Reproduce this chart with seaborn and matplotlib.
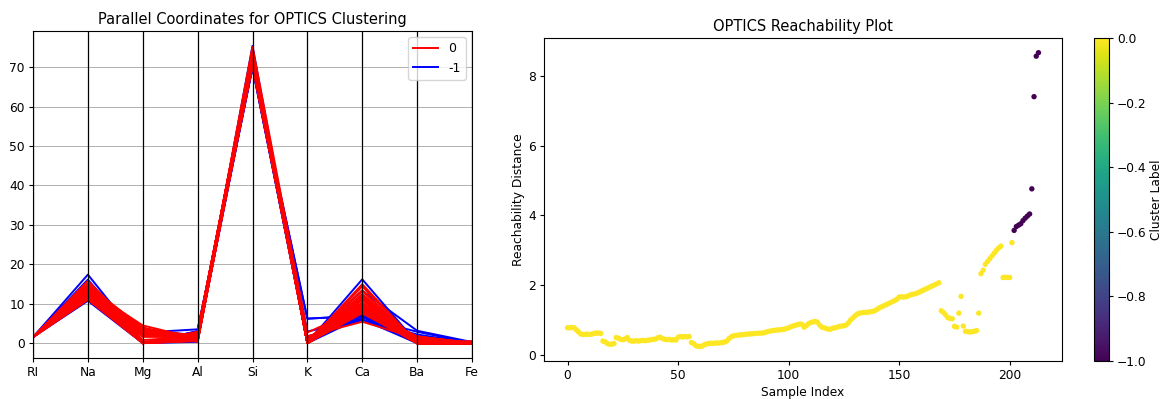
import numpy as np
import pandas as pd
import matplotlib
matplotlib.use("Agg")
import matplotlib.pyplot as plt
import seaborn as sns

# ---------------- data ----------------
features = ["RI", "Na", "Mg", "Al", "Si", "K", "Ca", "Ba", "Fe"]

cluster0_rows = [
    [1.52101, 13.64, 4.49, 1.10, 71.78, 0.06, 8.75, 0.00, 0.00],
    [1.51761, 13.89, 3.60, 1.36, 72.73, 0.48, 7.83, 0.00, 0.00],
    [1.51618, 13.53, 3.55, 1.54, 72.99, 0.39, 7.78, 0.00, 0.00],
    [1.51766, 13.21, 3.69, 1.29, 72.61, 0.57, 8.22, 0.00, 0.00],
    [1.51742, 13.27, 3.62, 1.24, 73.08, 0.55, 8.07, 0.00, 0.00],
    [1.51596, 12.79, 3.61, 1.62, 72.97, 0.64, 8.07, 0.00, 0.26],
    [1.51743, 13.30, 3.60, 1.14, 73.09, 0.58, 8.17, 0.00, 0.00],
    [1.51756, 13.15, 3.61, 1.05, 73.24, 0.57, 8.24, 0.00, 0.00],
    [1.51918, 14.04, 3.58, 1.37, 72.08, 0.56, 8.30, 0.00, 0.00],
    [1.51755, 13.00, 3.60, 1.36, 72.99, 0.57, 8.40, 0.00, 0.11],
    [1.51571, 12.72, 3.46, 1.56, 73.20, 0.67, 8.09, 0.00, 0.24],
    [1.51763, 12.80, 3.66, 1.27, 73.01, 0.60, 8.56, 0.00, 0.00],
    [1.51589, 12.88, 3.43, 1.40, 73.28, 0.69, 8.05, 0.00, 0.24],
    [1.51748, 12.86, 3.56, 1.27, 73.21, 0.54, 8.38, 0.00, 0.17],
    [1.51784, 12.68, 3.67, 1.16, 73.11, 0.61, 8.70, 0.00, 0.00],
    [1.52196, 14.36, 3.85, 0.89, 71.36, 0.15, 9.15, 0.00, 0.00],
    [1.51911, 13.90, 3.73, 1.18, 72.12, 0.06, 8.89, 0.00, 0.00],
    [1.51735, 13.02, 3.54, 1.69, 72.73, 0.54, 8.44, 0.00, 0.07],
    [1.51966, 14.77, 3.75, 0.29, 72.02, 0.03, 9.00, 0.00, 0.00],
    [1.52213, 14.21, 3.82, 0.47, 71.77, 0.11, 9.57, 0.00, 0.00],
    [1.52152, 13.05, 3.65, 0.87, 72.22, 0.19, 9.85, 0.00, 0.17],
    [1.52300, 13.31, 3.58, 0.82, 71.99, 0.12, 10.17, 0.00, 0.03],
    [1.51779, 13.21, 3.39, 1.33, 72.76, 0.59, 8.59, 0.00, 0.00],
    [1.52222, 14.43, 0.00, 1.00, 72.67, 0.10, 11.52, 0.00, 0.08],
    [1.52099, 13.69, 3.59, 1.12, 71.96, 0.09, 9.40, 0.00, 0.00],
    [1.51664, 12.55, 3.48, 1.87, 73.23, 0.63, 8.08, 0.00, 0.09],
    [1.51651, 14.38, 0.00, 1.94, 73.61, 0.00, 8.48, 1.57, 0.00],
    [1.51709, 13.00, 3.47, 1.79, 72.72, 0.66, 8.18, 0.00, 0.00],
    [1.52667, 13.99, 3.70, 0.71, 71.57, 0.02, 9.82, 0.00, 0.10],
    [1.52223, 13.21, 3.77, 0.79, 71.99, 0.13, 10.02, 0.00, 0.00],
    [1.51898, 13.58, 3.35, 1.23, 72.08, 0.59, 8.91, 0.00, 0.00],
    [1.52320, 13.72, 3.72, 0.51, 71.75, 0.09, 10.06, 0.00, 0.16],
    [1.51808, 13.43, 2.87, 1.19, 72.84, 0.55, 9.03, 0.00, 0.00],
    [1.51769, 12.45, 2.71, 1.29, 73.70, 0.56, 9.06, 0.00, 0.24],
    [1.51215, 12.99, 3.47, 1.12, 72.98, 0.62, 8.35, 0.00, 0.31],
    [1.51754, 13.48, 3.74, 1.17, 72.99, 0.59, 8.03, 0.00, 0.00],
    [1.51977, 13.81, 3.58, 1.32, 71.72, 0.12, 8.67, 0.69, 0.00],
    [1.52172, 13.51, 3.86, 0.88, 71.79, 0.23, 9.54, 0.00, 0.11],
    [1.52227, 14.17, 3.81, 0.78, 71.35, 0.00, 9.69, 0.00, 0.00],
    [1.52247, 14.86, 2.20, 2.06, 70.26, 0.76, 9.76, 0.00, 0.00],
    [1.52365, 15.79, 1.83, 1.31, 70.43, 0.31, 8.61, 1.68, 0.00],
    [1.51613, 13.88, 1.78, 1.79, 73.10, 0.00, 8.67, 0.76, 0.00],
    [1.51602, 14.85, 0.00, 2.38, 73.28, 0.00, 8.76, 0.64, 0.09],
    [1.51623, 14.20, 0.00, 2.79, 73.46, 0.04, 9.04, 0.40, 0.09],
    [1.51719, 14.75, 0.00, 2.00, 73.02, 0.00, 8.53, 1.59, 0.08],
    [1.51545, 14.14, 0.00, 2.68, 73.39, 0.08, 9.07, 0.61, 0.05],
    [1.51556, 13.87, 0.00, 2.54, 73.23, 0.14, 9.41, 0.81, 0.01],
    [1.51727, 14.70, 0.00, 2.34, 73.28, 0.00, 8.95, 0.66, 0.00],
    [1.51609, 15.01, 0.00, 2.51, 73.05, 0.05, 8.83, 0.53, 0.00],
    [1.51508, 15.15, 0.00, 2.25, 73.50, 0.00, 8.34, 0.63, 0.00],
    [1.51653, 11.95, 0.00, 1.19, 75.18, 2.70, 8.93, 0.00, 0.00],
    [1.51658, 14.80, 0.00, 1.99, 73.11, 0.00, 8.28, 1.71, 0.00],
    [1.51732, 14.95, 0.00, 1.80, 72.99, 0.00, 8.61, 1.55, 0.00],
    [1.51640, 14.37, 0.00, 2.74, 72.85, 0.00, 9.45, 0.54, 0.00],
    [1.51623, 14.14, 0.00, 2.88, 72.61, 0.08, 9.18, 1.06, 0.00],
    [1.52475, 11.45, 0.00, 1.88, 72.19, 0.81, 13.24, 0.00, 0.34],
    [1.51818, 13.72, 0.00, 0.56, 74.45, 0.00, 10.99, 0.00, 0.00],
    [1.52151, 11.03, 1.71, 1.56, 73.44, 0.58, 11.62, 0.00, 0.00],
    [1.51969, 14.56, 0.00, 0.56, 73.48, 0.00, 11.22, 0.00, 0.00],
    [1.51666, 12.86, 0.00, 1.83, 73.88, 0.97, 10.17, 0.00, 0.00],
    [1.51994, 13.27, 0.00, 1.76, 73.03, 0.47, 11.32, 0.00, 0.00],
    [1.52369, 13.44, 0.00, 1.58, 72.22, 0.32, 12.24, 0.00, 0.00],
    [1.52043, 13.38, 0.00, 1.40, 72.25, 0.33, 12.50, 0.00, 0.00],
    [1.52058, 12.85, 1.61, 2.17, 72.18, 0.76, 9.70, 0.24, 0.51],
    [1.52119, 12.97, 0.33, 1.51, 73.39, 0.13, 11.27, 0.00, 0.28],
    [1.51905, 14.00, 2.39, 1.56, 72.37, 0.00, 9.57, 0.00, 0.00],
    [1.51829, 14.46, 2.24, 1.62, 72.38, 0.00, 9.26, 0.00, 0.00],
    [1.51299, 14.40, 1.74, 1.54, 74.55, 0.00, 7.59, 0.00, 0.00],
    [1.51888, 14.99, 0.78, 1.74, 72.50, 0.00, 9.95, 0.00, 0.00],
    [1.51916, 14.15, 0.00, 2.09, 72.74, 0.00, 10.88, 0.00, 0.00],
    [1.52777, 12.64, 0.00, 0.67, 72.02, 0.06, 14.40, 0.00, 0.00],
    [1.52614, 13.70, 0.00, 1.36, 71.24, 0.19, 13.44, 0.00, 0.10],
    [1.52739, 11.02, 0.00, 0.75, 73.08, 0.00, 14.96, 0.00, 0.00],
    [1.51915, 12.73, 1.85, 1.86, 72.69, 0.60, 10.09, 0.00, 0.00],
    [1.52171, 11.56, 1.88, 1.56, 72.86, 0.47, 11.41, 0.00, 0.00],
    [1.51969, 12.64, 0.00, 1.65, 73.75, 0.38, 11.53, 0.00, 0.00],
    [1.51769, 13.65, 3.66, 1.11, 72.77, 0.11, 8.60, 0.00, 0.00],
    [1.51610, 13.33, 3.53, 1.34, 72.67, 0.56, 8.33, 0.00, 0.00],
    [1.51643, 12.16, 3.52, 1.35, 72.89, 0.57, 8.53, 0.00, 0.00],
    [1.52127, 14.32, 3.90, 0.83, 71.50, 0.00, 9.49, 0.00, 0.00],
    [1.51779, 13.64, 3.65, 0.65, 73.00, 0.06, 8.93, 0.00, 0.00],
    [1.51646, 13.04, 3.40, 1.26, 73.01, 0.52, 8.58, 0.00, 0.00],
    [1.51131, 13.69, 3.20, 1.81, 72.81, 1.76, 5.43, 1.19, 0.00],
    [1.51685, 14.92, 0.00, 1.99, 73.06, 0.00, 8.40, 1.59, 0.00],
    [1.51711, 14.23, 0.00, 2.08, 73.36, 0.00, 8.62, 1.67, 0.00],
    [1.51837, 13.14, 2.84, 1.28, 72.85, 0.55, 9.07, 0.00, 0.00],
]

noise_rows = [
    [1.51115, 17.38, 0.00, 0.34, 75.41, 0.00, 6.65, 0.00, 0.00],
    [1.51316, 13.02, 0.00, 3.04, 70.48, 6.21, 6.96, 0.00, 0.00],
    [1.51321, 13.00, 0.00, 3.02, 70.70, 6.21, 6.93, 0.00, 0.00],
    [1.53393, 12.30, 0.00, 1.00, 70.16, 0.12, 16.19, 0.00, 0.24],
    [1.53125, 10.73, 0.00, 2.10, 69.81, 0.58, 13.30, 3.15, 0.28],
    [1.51514, 14.01, 2.68, 3.50, 69.89, 1.68, 5.87, 2.20, 0.00],
    [1.51831, 14.39, 0.00, 1.82, 72.86, 1.41, 6.47, 2.88, 0.00],
    [1.51409, 14.25, 3.09, 2.08, 72.28, 1.10, 7.08, 0.00, 0.00],
    [1.52725, 13.80, 3.15, 0.66, 70.57, 0.08, 11.64, 0.00, 0.00],
    [1.51594, 16.12, 0.00, 2.88, 72.80, 2.95, 6.02, 0.00, 0.00],
    [1.52211, 14.19, 3.78, 0.91, 71.36, 0.23, 9.14, 0.00, 0.37],
    [1.52081, 13.78, 2.28, 1.43, 71.99, 0.49, 9.85, 0.00, 0.17],
]

reachability = [
    0.78, 0.78, 0.79, 0.78, 0.72, 0.66, 0.60, 0.59, 0.59, 0.60,
    0.59, 0.60, 0.62, 0.63, 0.63, 0.62, 0.40, 0.38, 0.33, 0.31,
    0.31, 0.33, 0.50, 0.48, 0.45, 0.44, 0.46, 0.50, 0.42, 0.40,
    0.40, 0.41, 0.40, 0.41, 0.42, 0.41, 0.42, 0.43, 0.44, 0.45,
    0.46, 0.50, 0.51, 0.47, 0.45, 0.44, 0.45, 0.43, 0.44, 0.43,
    0.51, 0.53, 0.52, 0.53, 0.52, 0.53, 0.36, 0.33, 0.27, 0.25,
    0.25, 0.26, 0.30, 0.32, 0.33, 0.34, 0.33, 0.35, 0.34, 0.35,
    0.36, 0.37, 0.40, 0.47, 0.52, 0.55, 0.56, 0.57, 0.58, 0.58,
    0.59, 0.60, 0.60, 0.61, 0.61, 0.62, 0.62, 0.63, 0.63, 0.64,
    0.66, 0.68, 0.69, 0.70, 0.71, 0.72, 0.72, 0.73, 0.74, 0.76,
    0.78, 0.81, 0.83, 0.85, 0.87, 0.89, 0.88, 0.80, 0.84, 0.90,
    0.93, 0.95, 0.96, 0.94, 0.86, 0.80, 0.78, 0.76, 0.74, 0.74,
    0.77, 0.78, 0.80, 0.82, 0.83, 0.84, 0.86, 0.92, 1.00, 1.06,
    1.12, 1.17, 1.20, 1.21, 1.22, 1.22, 1.23, 1.24, 1.25, 1.27,
    1.31, 1.35, 1.38, 1.41, 1.44, 1.47, 1.50, 1.53, 1.56, 1.60,
    1.66, 1.67, 1.66, 1.67, 1.69, 1.72, 1.74, 1.75, 1.77, 1.80,
    1.83, 1.86, 1.89, 1.92, 1.95, 1.98, 2.01, 2.04, 2.07, 1.27,
    1.22, 1.15, 1.07, 1.05, 1.04, 0.82, 0.80, 1.20, 1.68, 0.83,
    0.68, 0.67, 0.66, 0.67, 0.68, 0.70, 1.20, 2.33, 2.43, 2.60,
    2.68, 2.76, 2.84, 2.92, 3.00, 3.07, 3.12, 2.22, 2.23, 2.22,
    2.22, 3.22, 3.57, 3.68, 3.72, 3.76, 3.85, 3.92, 3.98, 4.04,
    4.76, 7.40, 8.56, 8.66,
]
cluster_labels = [0] * 202 + [-1] * 12

# ---------------- figure ----------------
plt.rcParams["font.family"] = ["DejaVu Sans"]
plt.rcParams["font.size"] = 8.8
plt.rcParams["xtick.labelsize"] = 8.8
plt.rcParams["ytick.labelsize"] = 8.8
plt.rcParams["axes.titlesize"] = 10.5
plt.rcParams["axes.labelsize"] = 8.8
plt.rcParams["xtick.major.size"] = 2.9
plt.rcParams["ytick.major.size"] = 2.9
plt.rcParams["xtick.major.pad"] = 2.9
plt.rcParams["ytick.major.pad"] = 2.9
plt.rcParams["axes.labelpad"] = 2.5
plt.rcParams["axes.titlepad"] = 5

fig = plt.figure(figsize=(11.65, 3.99), dpi=100)
ax1 = fig.add_axes([33 / 1165, 41 / 399, 439 / 1165, 327 / 399])
ax2 = fig.add_axes([544 / 1165, 38 / 399, 518 / 1165, 323 / 399])
cax = fig.add_axes([1094 / 1165, 38 / 399, 15 / 1165, 323 / 399])

# Parallel coordinates
records = []
uid = 0
for rows, lab in ((noise_rows, -1), (cluster0_rows, 0)):
    for row in rows:
        for j, v in enumerate(row):
            records.append({"id": uid, "pos": j, "value": v, "cluster": lab})
        uid += 1
pc = pd.DataFrame(records)

sns.lineplot(data=pc, x="pos", y="value", hue="cluster", units="id",
             estimator=None, hue_order=[-1, 0],
             palette={0: "red", -1: "blue"}, linewidth=1.4, ax=ax1)
for j in range(len(features)):
    ax1.axvline(j, color="black", linewidth=0.9)
ax1.set_xticks(range(len(features)))
ax1.set_xticklabels(features)
ax1.set_xlim(0, len(features) - 1)
ax1.grid(True, color="#b0b0b0", linewidth=0.7)
ax1.set_xlabel("")
ax1.set_ylabel("")
ax1.set_title("Parallel Coordinates for OPTICS Clustering")
handles, labels = ax1.get_legend_handles_labels()
ax1.legend(handles[::-1], ["0", "-1"], loc="upper right", fontsize=9)

# Reachability plot
sample_index = np.arange(len(reachability))
rp = pd.DataFrame({"idx": sample_index, "reach": reachability,
                   "label": cluster_labels})
sns.scatterplot(data=rp, x="idx", y="reach", hue="label", palette="viridis",
                hue_norm=(-1, 0), s=15, linewidth=0, legend=False, ax=ax2)
ax2.set_title("OPTICS Reachability Plot")
ax2.set_xlabel("Sample Index")
ax2.set_ylabel("Reachability Distance")
ax2.set_xticks([0, 50, 100, 150, 200])

sm = plt.cm.ScalarMappable(norm=plt.Normalize(-1, 0), cmap="viridis")
cb = fig.colorbar(sm, cax=cax)
cb.set_label("Cluster Label")

fig.savefig("out.png", dpi=100)
